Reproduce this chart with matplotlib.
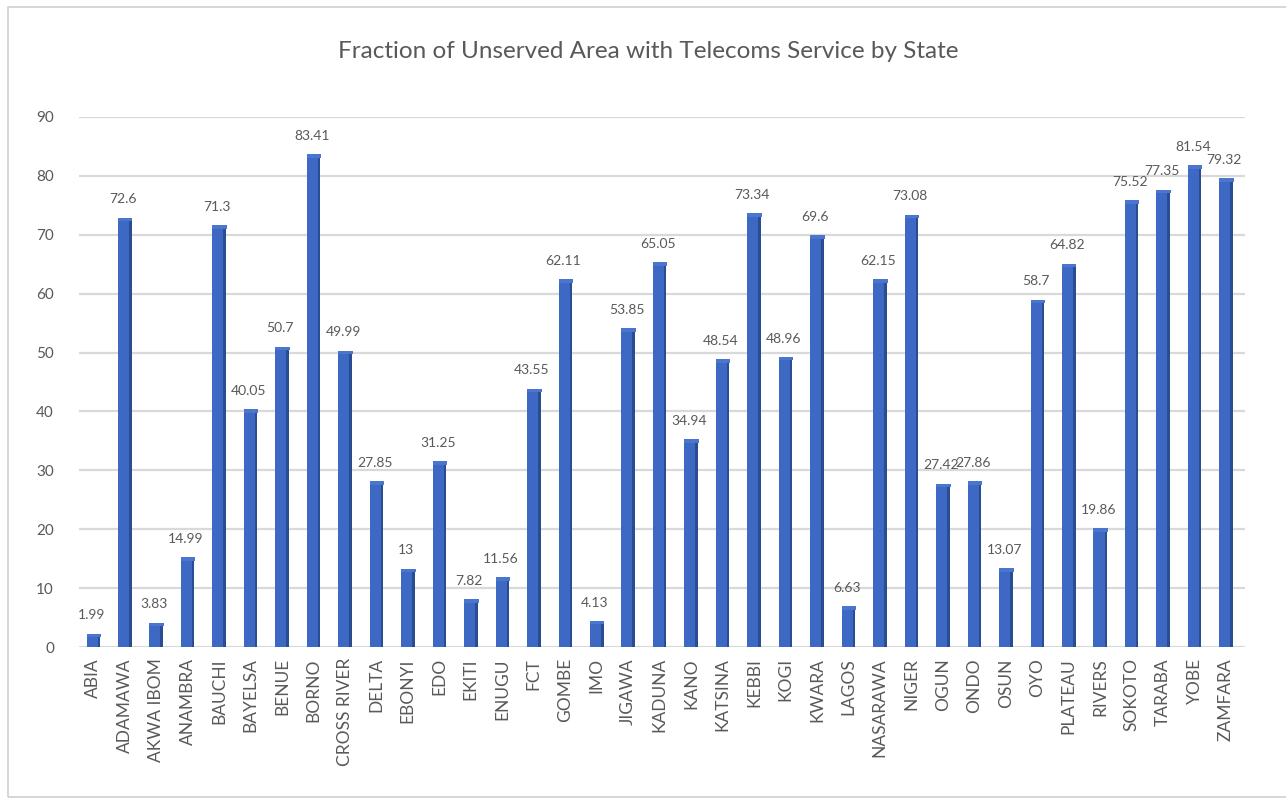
import matplotlib.pyplot as plt
from matplotlib.patches import Rectangle
import numpy as np

states = ['ABIA', 'ADAMAWA', 'AKWA IBOM', 'ANAMBRA', 'BAUCHI', 'BAYELSA', 'BENUE',
          'BORNO', 'CROSS RIVER', 'DELTA', 'EBONYI', 'EDO', 'EKITI', 'ENUGU', 'FCT',
          'GOMBE', 'IMO', 'JIGAWA', 'KADUNA', 'KANO', 'KATSINA', 'KEBBI', 'KOGI',
          'KWARA', 'LAGOS', 'NASARAWA', 'NIGER', 'OGUN', 'ONDO', 'OSUN', 'OYO',
          'PLATEAU', 'RIVERS', 'SOKOTO', 'TARABA', 'YOBE', 'ZAMFARA']
unserved = [1.99, 72.6, 3.83, 14.99, 71.3, 40.05, 50.7, 83.41, 49.99, 27.85, 13,
            31.25, 7.82, 11.56, 43.55, 62.11, 4.13, 53.85, 65.05, 34.94, 48.54,
            73.34, 48.96, 69.6, 6.63, 62.15, 73.08, 27.42, 27.86, 13.07, 58.7,
            64.82, 19.86, 75.52, 77.35, 81.54, 79.32]
labels = ['1.99', '72.6', '3.83', '14.99', '71.3', '40.05', '50.7', '83.41', '49.99',
          '27.85', '13', '31.25', '7.82', '11.56', '43.55', '62.11', '4.13', '53.85',
          '65.05', '34.94', '48.54', '73.34', '48.96', '69.6', '6.63', '62.15',
          '73.08', '27.42', '27.86', '13.07', '58.7', '64.82', '19.86', '75.52',
          '77.35', '81.54', '79.32']
yticks = [0, 10, 20, 30, 40, 50, 60, 70, 80, 90]

plt.rcParams['font.family'] = ['Lato', 'DejaVu Sans']
txt = '#595959'

fig = plt.figure(figsize=(12.86, 7.99), dpi=100)
fig.patches.append(Rectangle((8 / 1286, 2 / 799), 1.0, 790 / 799, transform=fig.transFigure,
                             facecolor='none', edgecolor='#d0d0d0', lw=1.2, zorder=0))

ax = fig.add_axes([0.0614, 0.1902, 0.9066, 0.6634])
x = np.arange(len(states))
vals = np.array(unserved)

# front face plus a darker side strip for the column look
ax.bar(x - 0.03, vals, width=0.36, color='#3d69c4', zorder=3)
ax.bar(x + 0.18, vals, width=0.08, color='#2a4c91', zorder=3)
ax.bar(x + 0.02, np.full(len(x), 0.6), bottom=vals - 0.3, width=0.46,
       color='#4a76cf', zorder=4)

for xi, v, s in zip(x, vals, labels):
    ax.text(xi - 0.05, v + 2.4, s, ha='center', va='bottom', fontsize=10,
            color=txt, zorder=5)

ax.set_xlim(-0.45, 36.6)
ax.set_ylim(0, 90)
ax.set_yticks(yticks)
ax.set_yticklabels([str(t) for t in yticks], fontsize=11, color=txt)
ax.set_xticks(x)
ax.set_xticklabels(states, rotation=90, fontsize=12.5, color=txt)
ax.tick_params(axis='both', length=0)
ax.tick_params(axis='y', pad=18)
ax.tick_params(axis='x', pad=8)
ax.grid(axis='y', color='#d9d9d9', lw=1.6, zorder=0)
for sp in ax.spines.values():
    sp.set_visible(False)

fig.text(0.504, 0.935, 'Fraction of Unserved Area with Telecoms Service by State',
         ha='center', va='center', fontsize=17.5, color=txt)

fig.savefig('out.png', dpi=100)
